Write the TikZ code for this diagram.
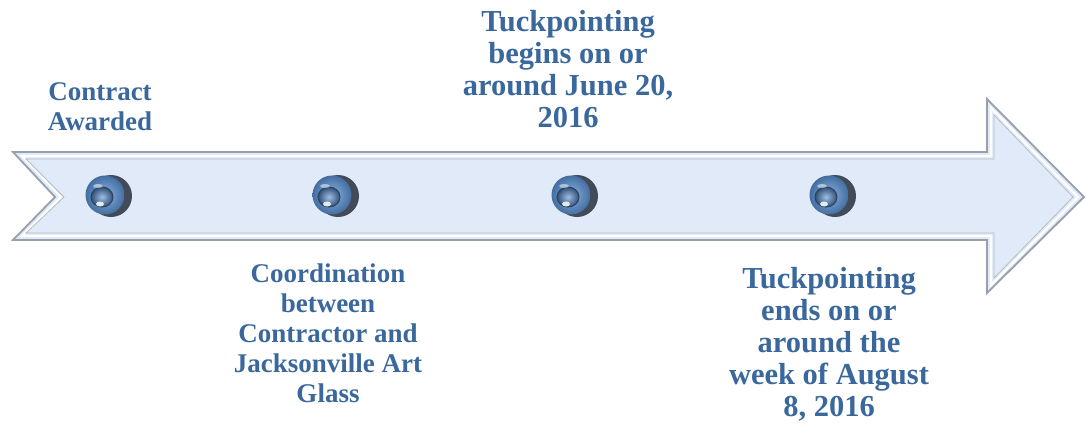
\documentclass[tikz,border=0pt]{standalone}
\usepackage{fontspec}
\setmainfont{Liberation Serif}
\usetikzlibrary{shapes.geometric}
\definecolor{txtblue}{HTML}{3A679C}
\definecolor{arrowfill}{HTML}{E1EAF8}
\definecolor{edgegray}{HTML}{98A0AE}
\definecolor{beadblue}{HTML}{5A92D6}
\definecolor{beaddark}{HTML}{1C2230}
\tikzset{
  lbl/.style={text=txtblue, font=\bfseries, align=center, inner sep=0pt},
  lblsmall/.style={lbl, font=\fontsize{27}{30}\selectfont\bfseries},
  lblbig/.style={lbl, font=\fontsize{30.5}{32}\selectfont\bfseries},
}
\newcommand{\bead}[2]{%
  \fill[beaddark, opacity=0.8] (#1+3,#2) ellipse [x radius=21, y radius=21];
  \shade[inner color=beadblue!70!white, outer color=beadblue!75!black] (#1-3,#2-1) circle [radius=19.5];
  \shade[inner color=beadblue!60!white, outer color=beadblue!55!black] (#1-6,#2+1) ellipse [x radius=11, y radius=10];
  \draw[beadblue!45!black, line width=1pt] (#1-6,#2+1) ellipse [x radius=11, y radius=10];
  \fill[white, opacity=0.85] (#1-8,#2+8) ellipse [x radius=4, y radius=2.5];
  \fill[white, opacity=0.5] (#1-10,#2-10) ellipse [x radius=5, y radius=2];
}
\begin{document}
\begin{tikzpicture}[x=1pt, y=-1pt]
\useasboundingbox (0,0) rectangle (1086,424);
% arrow outer
\path[fill=arrowfill, draw=edgegray, line width=1.8pt, line join=miter]
  (13,152) -- (987,152) -- (987,99) -- (1084,197) -- (987,293) -- (987,240)
  -- (13,240) -- (55,197) -- cycle;
% bevel inner lines
\draw[white, line width=2.2pt, line join=miter]
  (22,156) -- (991,156) -- (991,108) -- (1078,197) -- (991,285) -- (991,236)
  -- (22,236) -- (61,197) -- cycle;
\draw[edgegray!70, line width=0.8pt, line join=miter]
  (26,159) -- (994,159) -- (994,115) -- (1073,197) -- (994,278) -- (994,233)
  -- (26,233) -- (64,197) -- cycle;
% beads
\bead{108}{196}
\bead{335}{196}
\bead{574}{196}
\bead{832}{196}
% labels
\node[lblsmall] (t1) at (100,107) {Contract\\Awarded};
\node[lblsmall] (t2) at (328,333) {Coordination\\between\\Contractor and\\Jacksonville Art\\Glass};
\node[lblbig] (t3) at (568,69) {Tuckpointing\\begins on or\\around June 20,\\2016};
\node[lblbig] (t4) at (829,344) {Tuckpointing\\ends on or\\around the\\week of August\\8, 2016};
\end{tikzpicture}
\end{document}
